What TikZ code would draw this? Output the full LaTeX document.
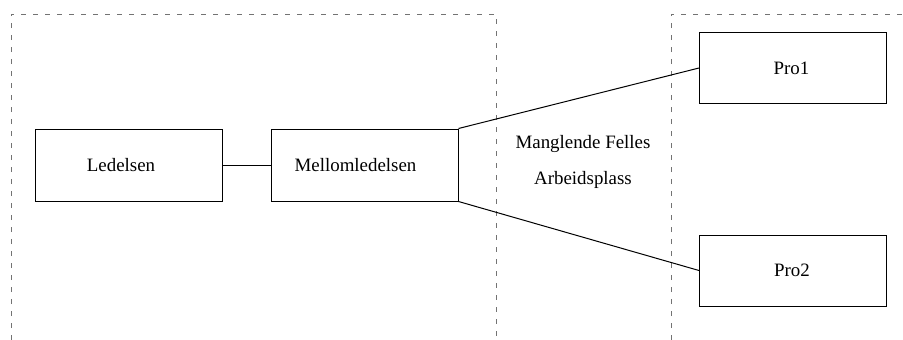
\documentclass[tikz,border=0pt]{standalone}
\usepackage{fontspec}
\setmainfont{Liberation Serif}
\begin{document}
\begin{tikzpicture}[x=1pt,y=-1pt,
  every node/.style={font=\fontsize{18.9}{36}\selectfont},
  unit/.style={draw=black, line width=1pt, minimum width=187pt, minimum height=72pt, inner sep=0pt},
  zone/.style={draw=black!55, line width=1pt, dash pattern=on 5pt off 7pt},
  link/.style={draw=black, line width=1pt}]
  \useasboundingbox (0,0) rectangle (903,340);

  % dashed zone borders
  \draw[zone] (11,340) -- (11,14) -- (496,14) -- (496,340);
  \draw[zone] (671,340) -- (671,14) -- (903,14);

  % units (the left pair carries its label a little left of centre)
  \node[unit] (led) at (129,165) {\hspace*{-16pt}Ledelsen};
  \node[unit] (mel) at (364.5,165) {\hspace*{-18pt}Mellomledelsen};
  \node[unit, minimum height=71pt] (p1) at (793,68) {\hspace*{-3pt}Pro1};
  \node[unit, minimum height=71pt] (p2) at (793,270.5) {\hspace*{-2pt}Pro2};

  % gap label
  \node[align=center, inner sep=0pt] (gap) at (583,162) {Manglende Felles\\Arbeidsplass};

  % connectors
  \draw[link] (led.east) -- (mel.west);
  \draw[link] (mel.north east) -- (p1.west);
  \draw[link] (mel.south east) -- (p2.west);
\end{tikzpicture}
\end{document}
